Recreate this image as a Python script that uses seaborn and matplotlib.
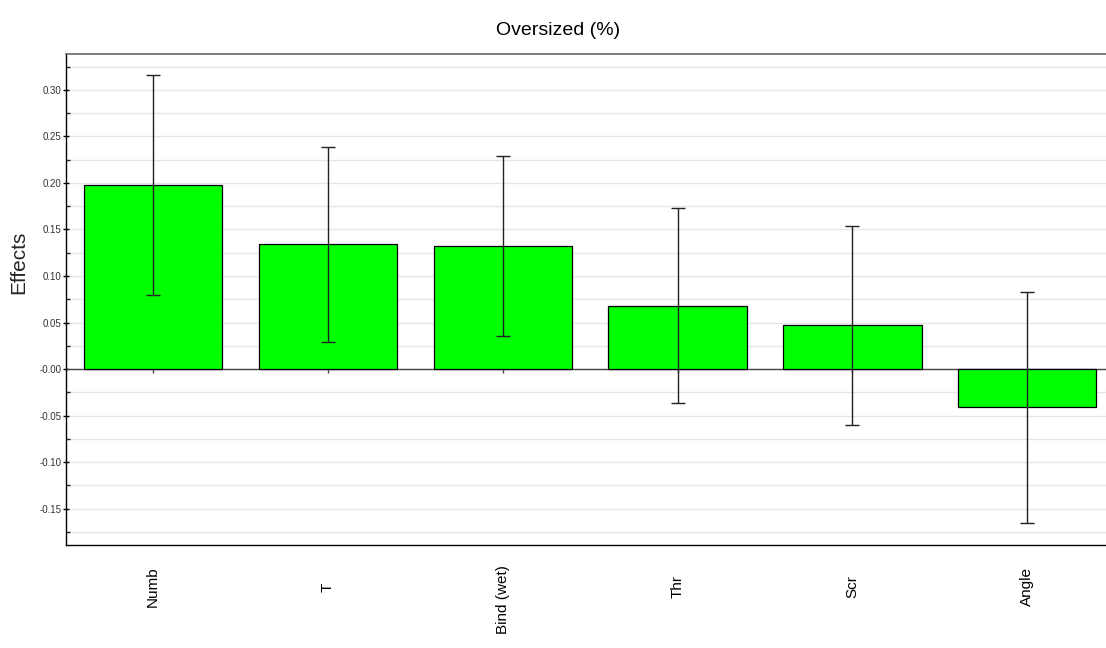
import seaborn as sns
import matplotlib.pyplot as plt
import matplotlib.ticker as mticker
import pandas as pd

factors = ["Numb", "T", "Bind (wet)", "Thr", "Scr", "Angle"]
effects = [0.198, 0.134, 0.132, 0.068, 0.047, -0.041]
conf = [0.118, 0.105, 0.097, 0.105, 0.107, 0.124]

sns.set_theme(style="white")
plt.rcParams["font.family"] = ["Liberation Sans", "DejaVu Sans"]
plt.rcParams["text.color"] = "black"

df = pd.DataFrame({"factor": factors, "effect": effects})

fig = plt.figure(figsize=(11.06, 6.48), dpi=100)
ax = fig.add_axes([0.0597, 0.159, 0.9403, 0.758])

sns.barplot(data=df, x="factor", y="effect", color="#00ff00", saturation=1,
            edgecolor="black", linewidth=0.9, width=0.79, ax=ax, zorder=3)
ax.errorbar(range(len(factors)), effects, yerr=conf, fmt="none", ecolor="#222222",
            elinewidth=1, capsize=5, capthick=1, zorder=4)

ymin, ymax = -0.189, 0.3387
ax.set_ylim(ymin, ymax)
ax.set_xlim(-0.497, 5.45)
ax.axhline(0, color="#444444", lw=1, zorder=2)

# y ticks every 0.05, minor every 0.025, light grid at both
ax.yaxis.set_major_locator(mticker.MultipleLocator(0.05))
ax.yaxis.set_minor_locator(mticker.MultipleLocator(0.025))
ax.yaxis.set_major_formatter(mticker.FuncFormatter(
    lambda v, p: "-0.00" if abs(v) < 1e-9 else f"{v:.2f}"))
ax.grid(axis="y", which="both", color="#e6e6e6", lw=1, zorder=0)
ax.tick_params(axis="y", which="major", direction="inout", length=5, width=1,
               labelsize=7, colors="black", left=True, pad=1)
ax.tick_params(axis="y", which="minor", direction="in", length=3, width=1, left=True)
ax.tick_params(axis="y", labelcolor="#333333")

# category labels along the bottom, ticks on the zero line
ax.tick_params(axis="x", length=0, labelsize=11, labelcolor="black")
zero_frac = (0 - ymin) / (ymax - ymin)
sec = ax.secondary_xaxis(zero_frac)
sec.set_xticks(range(len(factors)))
sec.tick_params(axis="x", length=3, width=1, labelbottom=False, colors="#444444")
sec.spines["bottom"].set_visible(False)

# labels centred in a box under the axis, long ones hang from its top
ax.set_xticks(range(len(factors)))
ax.set_xticklabels([])
renderer = fig.canvas.get_renderer()
box_top, box_mid = 565, 587
for i, name in enumerate(factors):
    t = ax.text(i, 0, name, rotation=90, fontsize=11, ha="center",
                transform=ax.get_xaxis_transform())
    h = t.get_window_extent(renderer).height
    if h <= 2 * (box_mid - box_top):
        t.set_va("center")
        y = 648 - box_mid
    else:
        t.set_va("top")
        y = 648 - box_top
    t.set_y((y - 0.159 * 648) / (0.758 * 648))

for s in ["left", "bottom"]:
    ax.spines[s].set_color("black")
    ax.spines[s].set_linewidth(1)
ax.spines["top"].set_color("#666666")
ax.spines["top"].set_linewidth(1.2)
ax.spines["right"].set_visible(False)

ax.set_xlabel("")
ax.set_ylabel("Effects", fontsize=15)
ax.yaxis.set_label_coords(-0.036, 0.576)
fig.text(0.505, 0.953, "Oversized (%)", ha="center", va="center", fontsize=14)

fig.savefig("out.png", dpi=100)
